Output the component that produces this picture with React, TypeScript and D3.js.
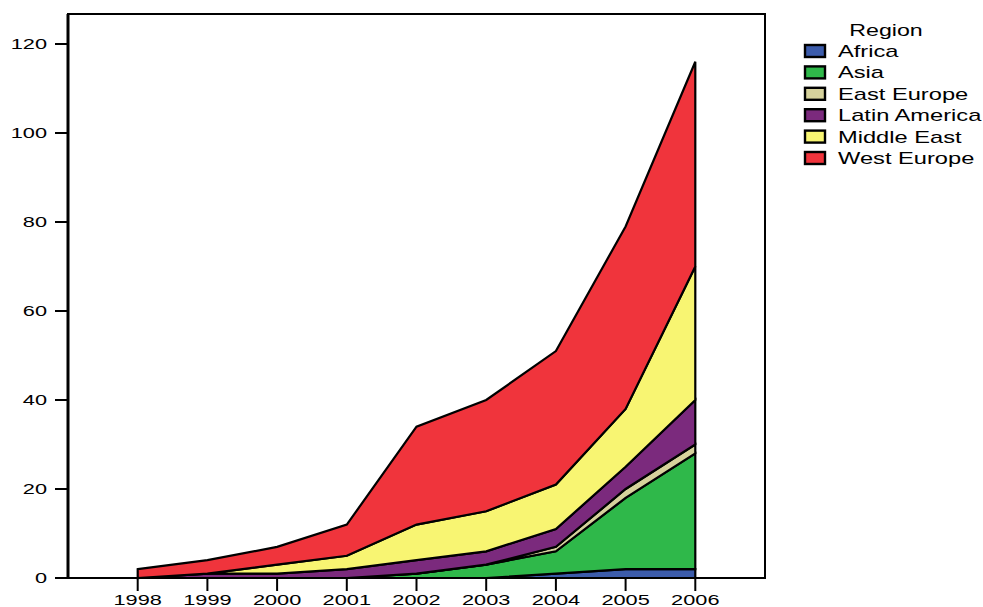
import React from "react";
import * as d3 from "d3";

const years = [1998, 1999, 2000, 2001, 2002, 2003, 2004, 2005, 2006];
const regions = ["Africa", "Asia", "East Europe", "Latin America", "Middle East", "West Europe"];
const colors = ["#3c5cab", "#2fb84a", "#d6d29c", "#7b2a7d", "#f8f572", "#f0343c"];

const africa = [0, 0, 0, 0, 0, 0, 1, 2, 2];
const asia = [0, 0, 0, 0, 1, 3, 5, 16, 26];
const eastEurope = [0, 0, 0, 0, 0, 0, 1, 2, 2];
const latinAmerica = [0, 1, 1, 2, 3, 3, 4, 5, 10];
const middleEast = [0, 0, 2, 3, 8, 9, 10, 13, 30];
const westEurope = [2, 3, 4, 7, 22, 25, 30, 41, 46];

const yTicks = [0, 20, 40, 60, 80, 100, 120];

const W = 983;
const H = 607;
const left = 68, right = 765, top = 14, bottom = 578;
const SX = 1.45;

export default function App() {
  const series = [africa, asia, eastEurope, latinAmerica, middleEast, westEurope];
  const rows = years.map((yr, i) => {
    const r: any = { year: yr };
    regions.forEach((k, j) => (r[k] = series[j][i]));
    return r;
  });
  const stacked = d3.stack().keys(regions)(rows);
  const x = d3.scaleLinear().domain([1997, 2007]).range([left, right]);
  const y = d3.scaleLinear().domain([0, 120]).range([bottom, 44]);
  const area = d3
    .area<any>()
    .x((d) => x(d.data.year))
    .y0((d) => y(d[0]))
    .y1((d) => y(d[1]));

  const font = "'Liberation Sans', Arial, Helvetica, sans-serif";

  return (
    <svg width={W} height={H} style={{ position: "absolute", left: 0, top: 0 }}>
      <rect x={0} y={0} width={W} height={H} fill="white" />
      {stacked.map((s, i) => (
        <path
          key={regions[i]}
          d={area(s as any) || ""}
          fill={colors[i]}
          stroke="black"
          strokeWidth={2.2}
          strokeLinejoin="miter"
        />
      ))}
      <rect x={left} y={top} width={right - left} height={bottom - top} fill="none" stroke="black" strokeWidth={2} />
      <line x1={left} x2={left} y1={top} y2={bottom} stroke="black" strokeWidth={3} />
      {yTicks.map((t) => (
        <g key={t}>
          <line x1={55} x2={left} y1={y(t)} y2={y(t)} stroke="black" strokeWidth={2} />
          <text
            transform={`translate(47,${y(t) + 5}) scale(${SX},1)`}
            textAnchor="end"
            fontFamily={font}
            fontSize={15}
            fill="black"
          >
            {t}
          </text>
        </g>
      ))}
      {years.map((yr) => (
        <g key={yr}>
          <line x1={x(yr)} x2={x(yr)} y1={bottom} y2={591} stroke="black" strokeWidth={2} />
          <text
            transform={`translate(${x(yr)},605) scale(${SX},1)`}
            textAnchor="middle"
            fontFamily={font}
            fontSize={15}
            fill="black"
          >
            {yr}
          </text>
        </g>
      ))}
      <text
        transform={`translate(886,36) scale(1.45,1)`}
        textAnchor="middle"
        fontFamily={font}
        fontSize={16}
        fill="black"
      >
        Region
      </text>
      {regions.map((r, i) => {
        const cy = 51 + i * 21.4;
        return (
          <g key={r}>
            <rect x={805} y={cy - 6} width={20} height={12} fill={colors[i]} stroke="black" strokeWidth={2.4} />
            <text
              transform={`translate(838,${cy + 6}) scale(1.48,1)`}
              fontFamily={font}
              fontSize={16}
              fill="black"
            >
              {r}
            </text>
          </g>
        );
      })}
    </svg>
  );
}
